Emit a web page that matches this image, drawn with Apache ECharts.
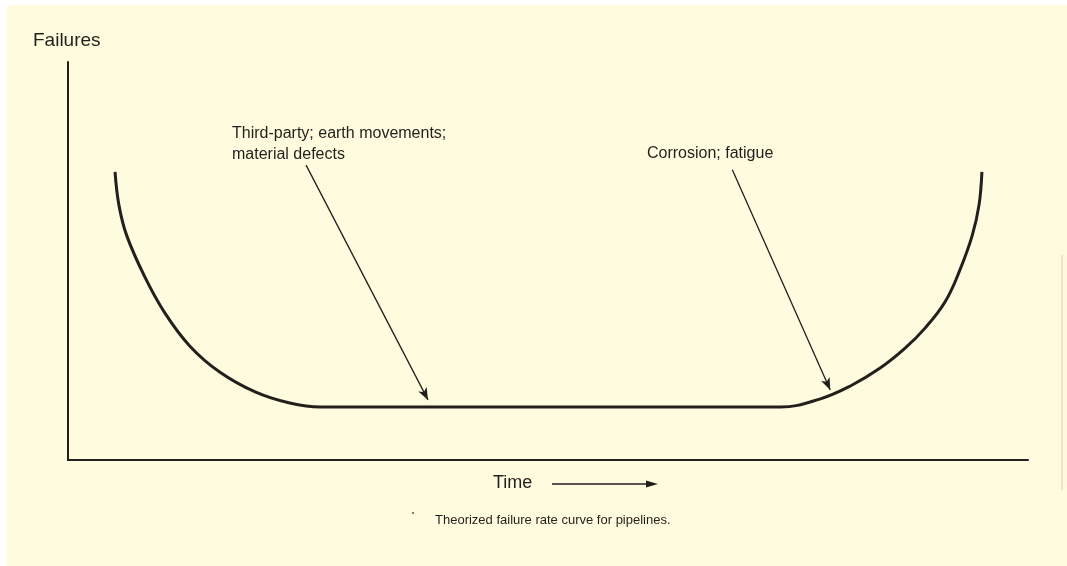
<!DOCTYPE html>
<html>
<head>
<meta charset="utf-8">
<script src="https://cdn.jsdelivr.net/npm/echarts@6/dist/echarts.min.js"></script>
<style>
  html, body { margin: 0; padding: 0; background: #ffffff; }
  #chart { position: absolute; left: 7px; top: 5px; width: 1060px; height: 561px; }
</style>
</head>
<body>
<div id="chart"></div>
<script>
// bathtub curve, time vs failures (arbitrary units 0..100)
const timeX = [4.9, 5.3, 6.1, 8.0, 10.1, 12.7, 15.8, 19.5, 23.1, 26.3,
  40, 50, 62, 74.2, 78.3, 81.5, 84.6, 87.2, 89.3, 91.4, 92.9, 94.2, 94.9, 95.2]
const failuresY = [72.4, 64.1, 56.5, 46.0, 36.9, 28.6, 22.1, 17.1, 14.3, 13.3,
  13.3, 13.3, 13.3, 13.3, 15.3, 18.6, 23.1, 28.1, 33.2, 39.9, 47.7, 56.5, 64.1, 72.4]

// annotation arrows: [startX, startY, endX, endY]
const arrowEarly = [24.8, 74.1, 37.5, 15.1]
const arrowLate = [69.2, 72.9, 79.4, 17.6]

const ink = '#231f1c'
const font = 'Arial, "Liberation Sans", Helvetica, sans-serif'

const chart = echarts.init(document.getElementById('chart'))

const toLine = a => [{ coord: [a[0], a[1]] }, { coord: [a[2], a[3]] }]

const option = {
    backgroundColor: '#fefbde',
    animation: false,
    grid: { left: 61, right: 39, top: 57, bottom: 106 },
    xAxis: {
        type: 'value', min: 0, max: 100,
        axisLine: { show: true, lineStyle: { color: ink, width: 2 } },
        axisTick: { show: false }, axisLabel: { show: false }, splitLine: { show: false }
    },
    yAxis: {
        type: 'value', min: 0, max: 100,
        axisLine: { show: true, lineStyle: { color: ink, width: 2 } },
        axisTick: { show: false }, axisLabel: { show: false }, splitLine: { show: false }
    },
    series: [
        {
            type: 'line',
            data: timeX.map((x, i) => [x, failuresY[i]]),
            smooth: 0.4,
            showSymbol: false,
            lineStyle: { color: ink, width: 3 },
            emphasis: { disabled: true },
            markLine: {
                silent: true,
                symbol: ['none', 'arrow'],
                symbolSize: [7, 12],
                label: { show: false },
                lineStyle: { color: ink, width: 1.3, type: 'solid' },
                data: [toLine(arrowEarly), toLine(arrowLate)]
            }
        }
    ],
    graphic: [
        { type: 'text', x: 26, y: 35.5, style: { text: 'Failures', font: '19px ' + font, fill: ink, verticalAlign: 'middle' } },
        { type: 'text', x: 225, y: 129, style: { text: 'Third-party; earth movements;', font: '16px ' + font, fill: ink, verticalAlign: 'middle' } },
        { type: 'text', x: 225, y: 150, style: { text: 'material defects', font: '16px ' + font, fill: ink, verticalAlign: 'middle' } },
        { type: 'text', x: 640, y: 149, style: { text: 'Corrosion; fatigue', font: '16px ' + font, fill: ink, verticalAlign: 'middle' } },
        { type: 'text', x: 486, y: 478.5, style: { text: 'Time', font: '18px ' + font, fill: ink, verticalAlign: 'middle' } },
        { type: 'line', shape: { x1: 545, y1: 479, x2: 642, y2: 479 }, style: { stroke: ink, lineWidth: 1.4 } },
        { type: 'polygon', shape: { points: [[651, 479], [639, 475.5], [639, 482.5]] }, style: { fill: ink } },
        { type: 'circle', shape: { cx: 406, cy: 508, r: 1 }, style: { fill: '#555' } },
        { type: 'text', x: 428, y: 515, style: { text: 'Theorized failure rate curve for pipelines.', font: '13px ' + font, fill: ink, verticalAlign: 'middle' } },
        { type: 'line', shape: { x1: 1055, y1: 250, x2: 1055, y2: 485 }, style: { stroke: '#f6dfc4', lineWidth: 2 } }
    ]
}

chart.setOption(option)
</script>
</body>
</html>
